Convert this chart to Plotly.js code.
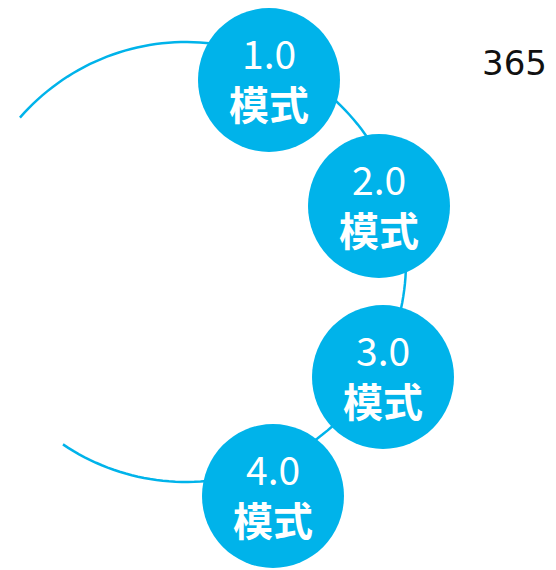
<!DOCTYPE html>
<html>
<head>
<meta charset="utf-8">
<script src="https://cdn.plot.ly/plotly-3.0.1.min.js"></script>
<style>html,body{margin:0;padding:0;background:#fff;}#chart{width:556px;height:570px;}</style>
</head>
<body>
<div id="chart"></div>
<script>
// ---- data ----
const versions = ['1.0', '2.0', '3.0', '4.0'];
const modeLabel = '模式';
const badgeText = '365';

// ---- layout geometry (pixel-like data space) ----
const W = 556, H = 570;
const centers = [[269, 80], [379, 206], [383, 377], [273, 496]];
const rx = 71, ry = 72;
const arc = {cx: 186, cy: 262, r: 220, a0: -139, a1: 124};
const blue = '#00B3EA';

// arc path
let path = '';
const steps = 160;
for (let i = 0; i <= steps; i++) {
  const a = (arc.a0 + (arc.a1 - arc.a0) * i / steps) * Math.PI / 180;
  const x = arc.cx + arc.r * Math.cos(a);
  const y = arc.cy + arc.r * Math.sin(a);
  path += (i === 0 ? 'M' : 'L') + x.toFixed(2) + ',' + y.toFixed(2);
}

const shapes = [{
  type: 'path', path: path, xref: 'x', yref: 'y',
  line: {color: blue, width: 2.5}, layer: 'below'
}];
const annotations = [];
versions.forEach((v, i) => {
  const [cx, cy] = centers[i];
  shapes.push({
    type: 'circle', xref: 'x', yref: 'y',
    x0: cx - rx, x1: cx + rx, y0: cy - ry, y1: cy + ry,
    fillcolor: blue, line: {width: 0}, layer: 'above'
  });
  annotations.push({
    x: cx, y: cy - 28, xref: 'x', yref: 'y', text: v, showarrow: false,
    xanchor: 'center', yanchor: 'middle', borderpad: 0,
    font: {family: '"Noto Sans CJK SC", "Noto Sans", sans-serif', size: 39, color: '#ffffff', weight: 400}
  });
  annotations.push({
    x: cx, y: cy + 23, xref: 'x', yref: 'y', text: modeLabel, showarrow: false,
    xanchor: 'center', yanchor: 'middle', borderpad: 0,
    font: {family: '"Noto Sans CJK SC", sans-serif', size: 40, color: '#ffffff', weight: 700}
  });
});
annotations.push({
  x: 514, y: 63, xref: 'x', yref: 'y', text: badgeText, showarrow: false,
  xanchor: 'center', yanchor: 'middle',
  font: {family: '"DejaVu Sans", sans-serif', size: 34, color: '#111111'}
});

const layout = {
  width: W, height: H,
  margin: {l: 0, r: 0, t: 0, b: 0, pad: 0},
  paper_bgcolor: '#ffffff', plot_bgcolor: '#ffffff',
  xaxis: {range: [0, W], visible: false, fixedrange: true},
  yaxis: {range: [H, 0], visible: false, fixedrange: true},
  shapes: shapes,
  annotations: annotations,
  showlegend: false
};
Plotly.newPlot('chart', [{x: [], y: [], type: 'scatter', mode: 'lines', hoverinfo: 'skip'}], layout, {displayModeBar: false, staticPlot: true});
</script>
</body>
</html>
